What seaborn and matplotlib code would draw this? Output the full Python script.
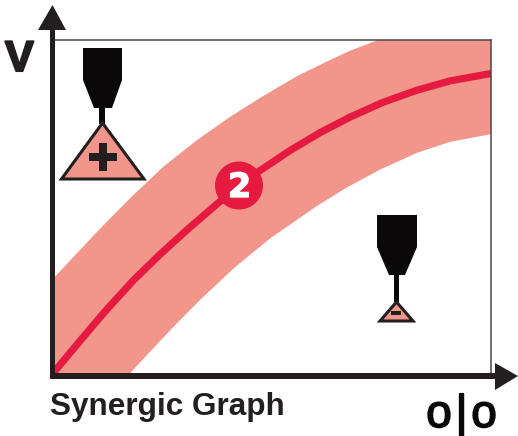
import matplotlib
matplotlib.use("Agg")
import matplotlib.pyplot as plt
import matplotlib.patheffects as pe
import seaborn as sns
from matplotlib.patches import Polygon, Rectangle, Circle

sns.set_style("white")

# Values, on a 0-100 scale for both axes
center_x = [0, 1.1, 7.1, 12.5, 18.5, 24.6, 31, 37.8, 46.9, 54.2, 61, 67.9, 75.4, 83.1, 90.7, 100]
center_y = [0, 1.9, 11.3, 19.6, 28.2, 36, 43.6, 51.3, 60.6, 67, 72.3, 77, 81.4, 85, 87.8, 90]
upper_x = [0, 10.3, 17.8, 25.3, 33, 40.5, 48, 55.8, 63.3, 67.9, 74.3, 100]
upper_y = [28.4, 42.8, 52.8, 62.1, 70.1, 77, 83.2, 89.2, 94, 96.8, 100, 100]
lower_x = [17.4, 22.3, 27.6, 33.7, 41.7, 49.7, 60.4, 67.2, 74.7, 83.1, 90.7, 100]
lower_y = [0, 6.9, 14.3, 22.4, 32.2, 40.8, 50.5, 56, 61.3, 66.3, 69.6, 71.9]
x_label = "o\u200a|\u200ao"
y_label = "V"
caption = "Synergic Graph"
badge = "2"

DARK = "#231f20"
BLACK = "#0a0808"
SALMON = "#f2958a"
RED = "#e61a40"

fig = plt.figure(figsize=(5.18, 4.36), dpi=100)
fig.patch.set_facecolor("white")
W, H = 518, 436
ax = fig.add_axes([52 / W, 1 - 375 / H, (491 - 52) / W, (375 - 40) / H])
ax.fill(upper_x + lower_x[::-1] + [0], upper_y + lower_y[::-1] + [0], color=SALMON, lw=0)
sns.lineplot(x=center_x, y=center_y, ax=ax, color=RED, lw=5.2, estimator=None, sort=False,
             solid_capstyle="butt", solid_joinstyle="round")
ax.set_xlim(0, 100)
ax.set_ylim(0, 100)
ax.set_xticks([])
ax.set_yticks([])
ax.set_xlabel("")
ax.set_ylabel("")
for side in ("left", "bottom"):
    ax.spines[side].set_visible(False)
for side in ("top", "right"):
    ax.spines[side].set_color("#4a4748")
    ax.spines[side].set_linewidth(1.1)

# Overlay in pixel units for the schematic decorations
ov = fig.add_axes([0, 0, 1, 1], facecolor="none")
ov.set_xlim(0, W)
ov.set_ylim(H, 0)
ov.axis("off")

# Axes with arrow heads
ov.add_patch(Rectangle((50, 28), 5, 351, color=DARK, lw=0))
ov.add_patch(Rectangle((50, 373), 447, 6, color=DARK, lw=0))
ov.add_patch(Polygon([(52.5, 5), (38, 30), (66, 30)], color=DARK, lw=0))
ov.add_patch(Polygon([(518, 376), (495, 363), (495, 390)], color=DARK, lw=0))


def nozzle(x0, x1, y0, y1, nx0, nx1, y2, sx0, sx1, y3, tri, mark):
    ov.add_patch(Rectangle((x0, y0), x1 - x0, y1 - y0, color=BLACK, lw=0))
    ov.add_patch(Polygon([(x0, y1), (x1, y1), (nx1, y2), (nx0, y2)], color=BLACK, lw=0))
    ov.add_patch(Rectangle((sx0, y2), sx1 - sx0, y3 - y2, color=BLACK, lw=0))
    ov.add_patch(Polygon(tri, closed=True, facecolor=SALMON, edgecolor=DARK, lw=2.2, joinstyle="miter"))
    for m in mark:
        ov.add_patch(Rectangle(m[:2], m[2], m[3], color=DARK, lw=0))


nozzle(83, 122, 48, 80, 94, 112, 108, 99, 104.5, 124,
       [(102.5, 123), (61.5, 179), (144, 179)],
       [(89, 153, 28, 8), (99, 143, 8, 28)])
nozzle(377, 417, 215, 247, 389, 405, 275, 394, 399, 302,
       [(396.5, 302), (380, 321), (413, 321)],
       [(391, 311, 10, 4)])

# Numbered badge
ov.add_patch(Circle((239, 185.5), 24, color=RED, lw=0))
ov.text(239.5, 197, badge, color="white", ha="center", va="baseline",
        family="DejaVu Sans", weight="bold", fontsize=24,
        path_effects=[pe.withStroke(linewidth=1.0, foreground="white")])

ov.text(5, 71, y_label, color=DARK, family="Liberation Sans", weight="bold",
        fontsize=31, ha="left", va="baseline",
        path_effects=[pe.withStroke(linewidth=1.5, foreground=DARK)])
ov.text(50, 415, caption, color=DARK, family="Liberation Sans", weight="bold",
        fontsize=22.7, ha="left", va="baseline")
ov.text(461.5, 427, x_label, color=BLACK, family=["Liberation Sans", "DejaVu Sans"],
        fontsize=33, ha="center", va="baseline",
        path_effects=[pe.withStroke(linewidth=1.2, foreground=BLACK)])

fig.savefig("out.png", dpi=100)
